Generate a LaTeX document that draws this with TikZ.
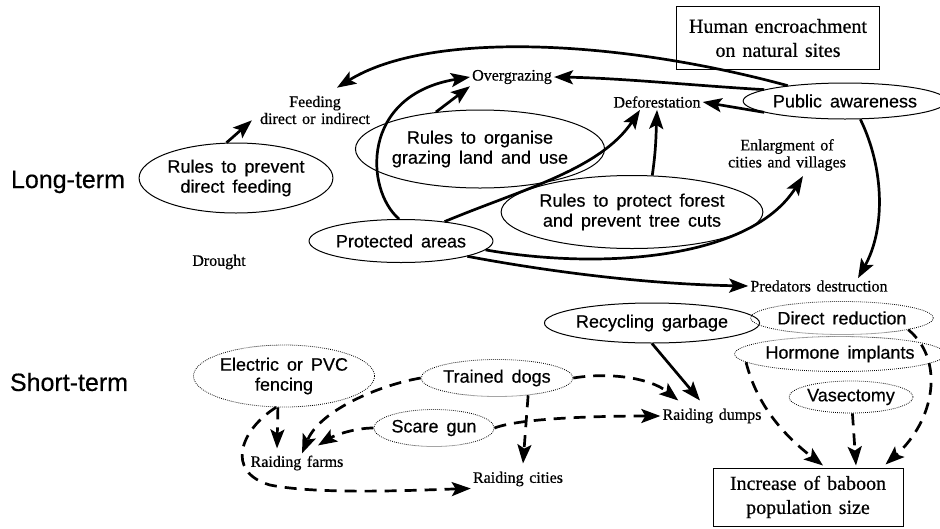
\documentclass[tikz,border=0pt]{standalone}
\usepackage{fontspec}
\setmainfont{Liberation Serif}[WordSpace=1.4, FakeBold=0.6]
\setsansfont{Liberation Sans}[WordSpace=1.6, FakeBold=0.5]
\usetikzlibrary{shapes.geometric,arrows.meta}

\begin{document}
\begin{tikzpicture}[x=1pt,y=-1pt,
    measure/.style={ellipse, draw, line width=1pt, inner sep=0pt, align=center,
      font=\sffamily\fontsize{18}{20}\selectfont},
    quick/.style={measure, line width=0.8pt, dash pattern=on 0.8pt off 1.2pt},
    issue/.style={inner sep=2pt, align=center, font=\fontsize{16}{17}\selectfont},
    goal/.style={draw, line width=1pt, align=center, font=\fontsize{20}{24}\selectfont},
    effect/.style={line width=2.7pt, -{Stealth[length=19pt,width=14pt,inset=4pt]}},
    weak/.style={effect, dash pattern=on 12pt off 8pt}]
  \useasboundingbox (0,0) rectangle (940,528);

  % time scales
  \node[font=\sffamily\fontsize{25}{28}\selectfont] (longterm) at (68,182) {Long-term};
  \node[font=\sffamily\fontsize{25}{28}\selectfont] (shortterm) at (69,382) {Short-term};

  % long-term measures and threats
  \node[goal, minimum width=203pt, minimum height=63pt] (human) at (778,38) {Human encroachment\\on natural sites};
  \node[measure, minimum width=172pt, minimum height=70pt] (ruleFeed) at (236,178) {Rules to prevent\\direct feeding};
  \node[issue] (feeding) at (315,110) {Feeding\\direct or indirect};
  \node[issue] (overgraze) at (512,77) {Overgrazing};
  \node[measure, minimum width=206pt, minimum height=78pt] (ruleGraze) at (480,149) {Rules to organise\\grazing land and use};
  \node[issue] (deforest) at (657,102) {Deforestation};
  \node[measure, minimum width=164pt, minimum height=36pt] (publicAw) at (845,101) {Public awareness};
  \node[issue] (enlarge) at (787,155) {Enlargment of\\cities and villages};
  \node[measure, minimum width=213pt, minimum height=73pt] (ruleForest) at (632,212) {Rules to protect forest\\and prevent tree cuts};
  \node[measure, minimum width=147pt, minimum height=43pt] (protect) at (401,241) {Protected areas};
  \node[issue] (drought) at (219,262) {Drought};
  \node[issue] (predators) at (819,286) {Predators destruction};

  % short-term measures
  \node[measure, minimum width=180pt, minimum height=40pt] (recycle) at (652,323) {Recycling garbage};
  \node[quick, minimum width=161pt, minimum height=33pt] (directRed) at (842,318) {Direct reduction};
  \node[quick, minimum width=175pt, minimum height=35pt] (hormone) at (840,354) {Hormone implants};
  \node[quick, minimum width=108pt, minimum height=32pt] (vasect) at (851,397) {Vasectomy};
  \node[quick, minimum width=165pt, minimum height=62pt] (fence) at (284,376) {Electric or PVC\\fencing};
  \node[quick, minimum width=133pt, minimum height=37pt] (dogs) at (497,378) {Trained dogs};
  \node[quick, minimum width=115pt, minimum height=37pt] (scare) at (434,428) {Scare gun};
  \node[issue] (dumps) at (712,416) {Raiding dumps};
  \node[issue] (cities) at (518,479) {Raiding cities};
  \node[issue] (farms) at (297,463) {Raiding farms};
  \node[goal, minimum width=190pt, minimum height=58pt] (increase) at (808,497) {Increase of baboon\\population size};

  % long-term links
  \draw[effect] (ruleFeed.105) -- ([xshift=-6pt,yshift=6pt]feeding.south west);
  \draw[effect] (publicAw.165) .. controls (620,40) and (430,30) .. ([xshift=22pt,yshift=6pt]feeding.north);
  \draw[effect] (publicAw.172) .. controls (700,86) and (620,78) .. (overgraze.east);
  \draw[effect] (publicAw.188) -- (deforest.east);
  \draw[effect] (protect.95) .. controls (365,190) and (360,95) .. (overgraze.west);
  \draw[effect] (ruleGraze.140) -- (overgraze.south west);
  \draw[effect] (protect.24) .. controls (520,190) and (600,170) .. ([xshift=-17pt]deforest.south);
  \draw[effect] (ruleForest.61) .. controls (656,150) and (656,135) .. (deforest.south);
  \draw[effect] (protect.-6) .. controls (600,270) and (750,260) .. ([xshift=16pt,yshift=-3pt]enlarge.south);
  \draw[effect] (protect.-13) .. controls (540,270) and (640,284) .. (predators.west);
  \draw[effect] (publicAw.-50) .. controls (885,170) and (885,230) .. ([xshift=39pt]predators.north);

  % short-term links
  \draw[effect] (recycle.south) -- ([xshift=-12pt,yshift=6pt]dumps.north);
  \draw[weak] (dogs.east) .. controls (610,372) and (650,378) .. ([xshift=18pt,yshift=6pt]dumps.north west);
  \draw[weak] (scare.east) .. controls (520,418) and (600,416) .. (dumps.west);
  \draw[weak] (dogs.-29) -- ([xshift=5pt,yshift=6pt]cities.north);
  \draw[weak] (dogs.west) .. controls (380,385) and (320,410) .. ([xshift=5pt]farms.north);
  \draw[weak] (scare.west) .. controls (355,428) and (335,435) .. ([xshift=21pt,yshift=8pt]farms.north);
  \draw[weak] (fence.-101) -- ([xshift=-20pt,yshift=5pt]farms.north);
  \draw[weak] (fence.-104) .. controls (240,430) and (225,472) .. (270,485)
    .. controls (320,495) and (420,490) .. (cities.south west);
  \draw[weak] (directRed.-10) .. controls (945,360) and (935,420) .. ([xshift=-18pt,yshift=3pt]increase.north east);
  \draw[weak] (hormone.185) .. controls (758,410) and (790,440) .. ([xshift=15pt,yshift=2pt]increase.north);
  \draw[weak] (vasect.-85) -- ([xshift=48pt,yshift=2pt]increase.north);
\end{tikzpicture}
\end{document}
